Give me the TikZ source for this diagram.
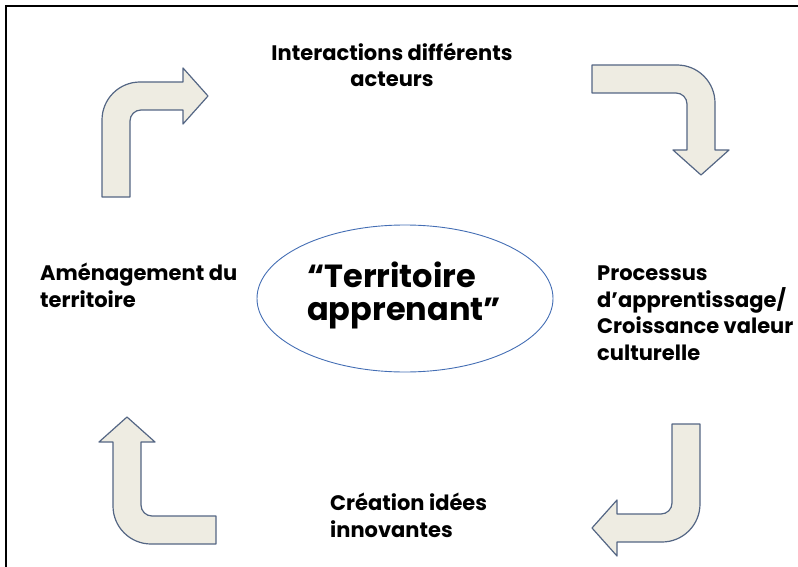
\documentclass[tikz,border=0pt]{standalone}
\usepackage{fontspec}
\setmainfont{Poppins}
\usetikzlibrary{shapes.geometric}
\definecolor{arrowfill}{RGB}{238,236,226}
\definecolor{arrowline}{RGB}{84,102,132}
\definecolor{ovalline}{RGB}{68,110,180}
\begin{document}
\begin{tikzpicture}
    [
    x=1pt,y=1pt,
    caption/.style={font=\fontsize{21}{26.5}\selectfont\bfseries,align=left,inner sep=0pt},
    bentline/.style={fill=arrowfill,draw=arrowline,line width=1.2pt,line join=round},
    pics/bentarrow/.style 2 args={code={
      \draw [bentline] (0,0) -- (0,#1-38) arc[start angle=180,end angle=90,radius=38]
        -- (#2-25,#1) -- (#2-25,#1+14) -- (#2,#1-14) -- (#2-25,#1-42) -- (#2-25,#1-28)
        -- (39,#1-28) arc[start angle=90,end angle=180,radius=11] -- (28,0) -- cycle;
    }},
    ]
    \useasboundingbox (0,0) rectangle (798,-567);
    \draw [line width=1.5pt] (6,-567) -- (6,-6) -- (798,-6);
    % the four bent arrows
    \pic (tl) at (102,-197) {bentarrow={115}{106}};
    \pic (tr) [rotate=-90] at (592,-65) {bentarrow={123}{110}};
    \pic (br) [rotate=180] at (700,-424) {bentarrow={118}{108}};
    \pic (bl) [rotate=90] at (216,-544) {bentarrow={103}{127}};
    % centre
    \node (oval) at (405,-298.5) [ellipse,draw=ovalline,line width=0.9pt,inner sep=0pt,minimum width=296,minimum height=147] {};
    \node (titre) at (307,-320) [font=\fontsize{32}{33}\selectfont\bfseries,align=left,inner sep=0pt,anchor=base west] {“Territoire\\apprenant”};
    % labels
    \node (inter) at (392,-87) [caption,align=center,anchor=base] {Interactions différents\\acteurs};
    \node (amenag) at (40,-307) [caption,anchor=base west] {Aménagement du\\territoire};
    \node (process) at (597,-360) [caption,anchor=base west] {Processus\\d’apprentissage/\\Croissance valeur\\culturelle};
    \node (creation) at (330,-537) [caption,anchor=base west] {Création idées\\innovantes};
  \end{tikzpicture}
\end{document}
